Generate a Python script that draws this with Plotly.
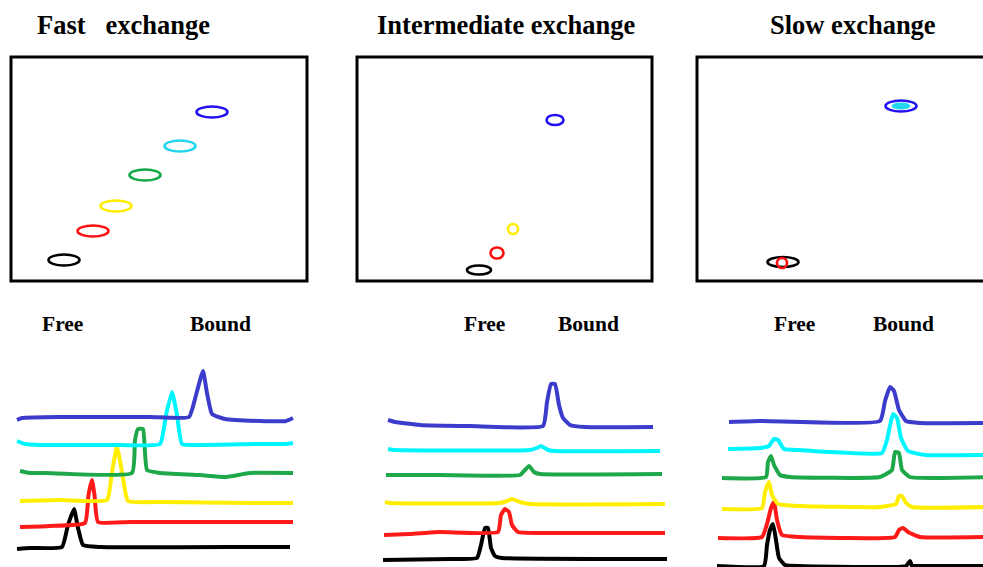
import plotly.graph_objects as go

# Canvas coordinates: x grows right, y grows down (0..983 by 0..567)
W, H = 983, 567

TITLES = ["Fast\u00a0\u00a0\u00a0exchange", "Intermediate exchange", "Slow exchange"]
TITLE_X = [123, 506, 853]
TITLE_Y = 25

FREE_X = [62, 484, 794]
BOUND_X = [220, 588, 903]
LABEL_Y = 324

# HSQC-style frames: left, top, right, bottom
FRAMES = [(11, 57, 307, 281), (357, 57, 652, 281), (697, 57, 1010, 281)]

COLORS = ["black", "red", "yellow", "green", "cyan", "blue"]
SPEC_COLORS = {"black": "#000000", "red": "#ff1a1a", "yellow": "#ffee00",
               "green": "#1fa84a", "cyan": "#00f5ff", "blue": "#3c3ccc"}
CROSS_COLORS = {"black": "#000000", "red": "#ff1111", "yellow": "#ffee00",
                "green": "#12a848", "cyan": "#22d6f0", "blue": "#2211f0"}

# Cross peaks: colour, centre x, centre y, width, height, filled
FAST_PEAKS = [("black", 64, 260, 31, 11, False), ("red", 93, 231, 31, 11, False),
              ("yellow", 116, 206, 31, 11, False), ("green", 145, 175, 31, 11, False),
              ("cyan", 180, 146, 31, 11, False), ("blue", 212, 112, 31, 11, False)]
INTER_PEAKS = [("black", 479, 270, 24, 9, False), ("red", 497, 253, 13, 11, False),
               ("yellow", 513, 229, 10, 10, False), ("blue", 555, 120, 17, 10, False)]
SLOW_PEAKS = [("black", 783, 262, 31, 10, False), ("red", 782, 263, 10, 10, False),
              ("blue", 901, 106, 31, 11, False), ("cyan", 901, 106, 19, 7, True)]

# 1D spectra traced as polylines (x list, y list) per titration point
FAST_X = {
    "blue":   [17, 22, 60, 150, 189, 196, 203, 207, 212, 225, 260, 286, 293],
    "cyan":   [17, 25, 40, 120, 160, 166, 172, 177, 182, 200, 260, 285, 293],
    "green":  [20, 30, 45, 132, 135, 138, 143, 147, 160, 200, 225, 250, 293],
    "yellow": [20, 60, 107, 112, 117, 122, 128, 160, 250, 293],
    "red":    [20, 50, 85, 88.5, 92, 94.5, 98, 130, 250, 293],
    "black":  [17, 30, 62, 68, 74, 78, 83, 100, 250, 290],
}
FAST_Y = {
    "blue":   [420, 418, 417, 417, 417, 395, 371, 393, 414, 419, 421, 421, 418],
    "cyan":   [441, 444, 445, 445, 444, 415, 392, 415, 444, 445, 444, 444, 443],
    "green":  [471, 473, 473, 473, 440, 429, 429, 470, 473, 475, 477, 473, 473],
    "yellow": [501, 500, 500, 472, 447, 472, 501, 502, 503, 503],
    "red":    [527, 526, 523, 495, 480, 495, 522, 522, 522, 522],
    "black":  [549, 548, 547, 525, 509, 528, 545, 547, 547, 547],
}

INTER_X = {
    "blue":   [388, 395, 420, 470, 543, 547, 551, 555, 559, 563, 570, 585, 653],
    "cyan":   [388, 395, 530, 537, 541, 548, 555, 660],
    "green":  [386, 440, 520, 525, 529, 534, 540, 662],
    "yellow": [385, 390, 500, 507, 512, 520, 530, 665],
    "red":    [384, 410, 440, 498, 501, 505, 509, 512, 518, 540, 665],
    "black":  [383, 450, 477, 481, 485, 488, 491, 495, 502, 667],
}
INTER_Y = {
    "blue":   [420, 422, 425, 426, 426, 402, 384, 384, 405, 418, 425, 427, 427],
    "cyan":   [449, 450, 450, 448, 446, 450, 451, 451],
    "green":  [475, 475, 475, 470, 466, 472, 474, 474],
    "yellow": [502, 503, 503, 501, 499, 502, 504, 504],
    "red":    [535, 534, 532, 532, 515, 509, 512, 525, 532, 533, 533],
    "black":  [560, 559, 558, 545, 528, 528, 548, 556, 558, 559],
}

SLOW_X = {
    "blue":   [729, 760, 880, 885, 890, 894, 899, 906, 920, 990],
    "cyan":   [728, 760, 769, 774, 778, 784, 800, 830, 882, 887, 893, 897, 901, 908, 925, 990],
    "green":  [722, 766, 768, 771, 774, 780, 790, 880, 892, 895, 899, 902, 910, 990],
    "yellow": [722, 762, 765, 769, 772, 778, 800, 880, 896, 899, 902, 906, 912, 990],
    "red":    [718, 762, 767, 771, 774, 777, 782, 800, 895, 899, 903, 908, 920, 990],
    "black":  [717, 764, 767, 770, 773, 776, 779, 785, 800, 906, 910, 912, 915, 990],
}
SLOW_Y = {
    "blue":   [422, 421, 421, 401, 387, 391, 410, 421, 423, 423],
    "cyan":   [449, 448, 446, 439, 440, 449, 450, 452, 453, 440, 414, 418, 438, 451, 455, 455],
    "green":  [478, 477, 462, 456, 465, 475, 477, 477, 470, 452, 453, 470, 477, 477],
    "yellow": [509, 508, 492, 482, 495, 504, 506, 507, 504, 496, 496, 503, 507, 507],
    "red":    [538, 537, 524, 508, 502, 520, 535, 537, 537, 530, 528, 532, 537, 537],
    "black":  [566, 566, 545, 530, 524, 540, 558, 565, 566, 566, 561, 566, 566, 566],
}

fig = go.Figure()

for xs, ys in [(FAST_X, FAST_Y), (INTER_X, INTER_Y), (SLOW_X, SLOW_Y)]:
    for c in COLORS:
        fig.add_trace(go.Scatter(
            x=xs[c], y=ys[c], mode="lines",
            line=dict(color=SPEC_COLORS[c], width=4, shape="spline", smoothing=0.4),
            hoverinfo="skip", showlegend=False))

shapes = []
for (x0, y0, x1, y1) in FRAMES:
    shapes.append(dict(type="rect", xref="x", yref="y", x0=x0, y0=y0, x1=x1, y1=y1,
                       line=dict(color="black", width=3), fillcolor="rgba(0,0,0,0)",
                       layer="below"))

for peaks in (FAST_PEAKS, INTER_PEAKS, SLOW_PEAKS):
    for c, cx, cy, w, h, filled in peaks:
        if filled:
            shapes.append(dict(type="circle", xref="x", yref="y",
                               x0=cx - w / 2, x1=cx + w / 2, y0=cy - h / 2, y1=cy + h / 2,
                               line=dict(width=0), fillcolor=CROSS_COLORS[c]))
        else:
            shapes.append(dict(type="circle", xref="x", yref="y",
                               x0=cx - w / 2, x1=cx + w / 2, y0=cy - h / 2, y1=cy + h / 2,
                               line=dict(color=CROSS_COLORS[c], width=2.6),
                               fillcolor="rgba(0,0,0,0)"))

annotations = []
serif = "Liberation Serif, Times New Roman, serif"
for t, x in zip(TITLES, TITLE_X):
    annotations.append(dict(x=x, y=TITLE_Y, xref="x", yref="y", text=f"<b>{t}</b>",
                            showarrow=False, font=dict(family=serif, size=26.5, color="black")))
for fx, bx in zip(FREE_X, BOUND_X):
    annotations.append(dict(x=fx, y=LABEL_Y, xref="x", yref="y", text="<b>Free</b>",
                            showarrow=False, font=dict(family=serif, size=21.5, color="black")))
    annotations.append(dict(x=bx, y=LABEL_Y, xref="x", yref="y", text="<b>Bound</b>",
                            showarrow=False, font=dict(family=serif, size=21.5, color="black")))

fig.update_layout(
    width=W, height=H,
    margin=dict(l=0, r=0, t=0, b=0),
    paper_bgcolor="white", plot_bgcolor="white",
    xaxis=dict(range=[0, W], visible=False, fixedrange=True),
    yaxis=dict(range=[H, 0], visible=False, fixedrange=True),
    shapes=shapes, annotations=annotations,
)

fig.write_html("out.html")
